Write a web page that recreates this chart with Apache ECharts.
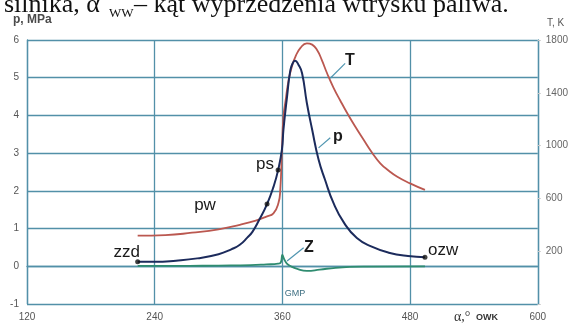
<!DOCTYPE html>
<html>
<head>
<meta charset="utf-8">
<script src="https://cdn.jsdelivr.net/npm/echarts@6/dist/echarts.min.js"></script>
<style>
html, body { margin: 0; padding: 0; background: #fff; }
#chart { width: 571px; height: 326px; }
</style>
</head>
<body>
<div id="chart"></div>
<script>
// kąt obrotu wału (°OWK) i ciśnienie p [MPa]
var pAlpha = [224, 240, 260, 280, 300, 312, 320, 327, 332, 338, 345.6, 351.8, 356, 359.6, 361, 364.4, 367.5, 370, 372, 375, 378.5, 383, 388, 394, 400, 408, 418, 430, 444, 460, 478, 494];
var pVals  = [0.12, 0.12, 0.15, 0.21, 0.32, 0.45, 0.57, 0.76, 0.92, 1.22, 1.65, 2.12, 2.55, 3.1, 3.62, 4.5, 5.2, 5.4, 5.45, 5.35, 5.12, 4.33, 3.62, 2.83, 2.3, 1.68, 1.15, 0.75, 0.52, 0.36, 0.27, 0.24];

// temperatura T [K]
var tAlpha = [224, 250, 275, 300, 320, 335, 345, 351.6, 356.3, 358, 359.6, 361, 363, 365.9, 369, 372.2, 377, 383, 388, 392.6, 397, 402, 408, 414.5, 421, 428, 436.5, 444, 452, 460, 468, 480, 494];
var tVals  = [318, 322, 340, 365, 400, 432, 462, 487, 565, 664, 967, 1219, 1340, 1497, 1600, 1673, 1740, 1775, 1765, 1724, 1650, 1548, 1440, 1340, 1245, 1150, 1042, 950, 866, 810, 764, 714, 664];

// Z
var zAlpha = [224, 260, 300, 330, 345, 356, 358.5, 360, 361.5, 364, 368, 374, 383, 395, 410, 440, 494];
var zVals  = [0.01, 0.01, 0.02, 0.03, 0.05, 0.07, 0.1, 0.3, 0.2, 0.08, 0.0, -0.07, -0.12, -0.09, -0.04, -0.01, 0];

// punkty charakterystyczne: zzd, pw, ps, ozw
var markAlpha = [224, 345.6, 356, 494];
var markP     = [0.12, 1.65, 2.55, 0.24];

var xTicks = [120, 240, 360, 480, 600];

function zip(a, b) {
    var out = [];
    for (var i = 0; i < a.length; i++) out.push([a[i], b[i]]);
    return out;
}

var gridColor = '#5290a8';
var leader = { color: '#4f95b0', width: 1.2, type: 'solid' };
var lab = '"Liberation Sans", Arial, sans-serif';
var serif = '"Liberation Serif", "Times New Roman", serif';

var chart = echarts.init(document.getElementById('chart'));
chart.setOption({
    animation: false,
    grid: { left: 27, right: 33, top: 40, bottom: 22 },
    xAxis: {
        type: 'value', min: xTicks[0], max: xTicks[xTicks.length - 1], interval: 120,
        axisLine: { show: true, lineStyle: { color: gridColor, width: 1.3 } },
        axisTick: { show: false },
        splitLine: { show: true, lineStyle: { color: gridColor, width: 1.3 } },
        axisLabel: { color: '#555', fontSize: 10, fontFamily: lab, margin: 8 }
    },
    yAxis: [
        {
            type: 'value', min: -1, max: 6, interval: 1,
            axisLine: { show: true, lineStyle: { color: gridColor, width: 1.3 } },
            axisTick: { show: false },
            splitLine: { show: true, lineStyle: { color: gridColor, width: 1.3 } },
            axisLabel: { color: '#555', fontSize: 10, fontFamily: lab, margin: 8 }
        },
        {
            type: 'value', min: -200, max: 1800, interval: 400, position: 'right',
            axisLine: { show: true, lineStyle: { color: gridColor, width: 1.3 } },
            axisTick: { show: true, length: 3, lineStyle: { color: '#c8c8c8' } },
            splitLine: { show: false },
            axisLabel: {
                color: '#666', fontSize: 10, fontFamily: lab, margin: 8,
                formatter: function (v) { return v < 0 ? '' : v; }
            }
        }
    ],
    series: [
        {
            name: 'Z', type: 'line', yAxisIndex: 0, data: zip(zAlpha, zVals),
            showSymbol: false, smooth: 0.5,
            lineStyle: { color: '#2f8c70', width: 1.8 }, z: 2,
            markLine: {
                silent: true, symbol: ['none', 'none'], label: { show: false },
                lineStyle: leader,
                data: [[{ coord: [364.4, 0.14] }, { coord: [380, 0.49] }]]
            }
        },
        {
            name: 'T', type: 'line', yAxisIndex: 1, data: zip(tAlpha, tVals),
            showSymbol: false, smooth: 0.5,
            lineStyle: { color: '#bb5850', width: 1.8 }, z: 3,
            markLine: {
                silent: true, symbol: ['none', 'none'], label: { show: false },
                lineStyle: leader,
                data: [[{ coord: [405, 1510] }, { coord: [419, 1623] }]]
            }
        },
        {
            name: 'p', type: 'line', yAxisIndex: 0, data: zip(pAlpha, pVals),
            showSymbol: false, smooth: 0.5,
            lineStyle: { color: '#1c2b5c', width: 2 }, z: 4,
            markLine: {
                silent: true, symbol: ['none', 'none'], label: { show: false },
                lineStyle: leader,
                data: [[{ coord: [394, 3.14] }, { coord: [405, 3.41] }]]
            }
        },
        {
            name: 'punkty', type: 'scatter', yAxisIndex: 0, data: zip(markAlpha, markP),
            symbolSize: 5, itemStyle: { color: '#111' }, z: 5
        }
    ],
    graphic: [
        // fragment podpisu nad rysunkiem (ucięty u góry)
        { type: 'text', x: 4, y: 18, style: { text: 'silnika, α', font: '26px ' + serif, fill: '#111', textVerticalAlign: 'bottom' } },
        { type: 'text', x: 109, y: 20, style: { text: 'WW', font: '13px ' + serif, fill: '#111', textVerticalAlign: 'bottom' } },
        { type: 'text', x: 134, y: 18, style: { text: '– kąt wyprzedzenia wtrysku paliwa.', font: '26px ' + serif, fill: '#111', textVerticalAlign: 'bottom' } },

        { type: 'text', x: 13, y: 20, style: { text: 'p, MPa', font: 'bold 12px ' + lab, fill: '#4a4a4a', textVerticalAlign: 'middle' } },
        { type: 'text', x: 547, y: 23, style: { text: 'T, K', font: '10px ' + lab, fill: '#555', textVerticalAlign: 'middle' } },

        { type: 'text', x: 140, y: 252, style: { text: 'zzd', font: '17px ' + lab, fill: '#1a1a1a', textAlign: 'right', textVerticalAlign: 'middle' } },
        { type: 'text', x: 428, y: 250, style: { text: 'ozw', font: '17px ' + lab, fill: '#1a1a1a', textVerticalAlign: 'middle' } },
        { type: 'text', x: 274, y: 164, style: { text: 'ps', font: '17px ' + lab, fill: '#1a1a1a', textAlign: 'right', textVerticalAlign: 'middle' } },
        { type: 'text', x: 205, y: 205, style: { text: 'pw', font: '17px ' + lab, fill: '#1a1a1a', textAlign: 'center', textVerticalAlign: 'middle' } },
        { type: 'text', x: 350, y: 61, style: { text: 'T', font: 'bold 16px ' + lab, fill: '#1a1a1a', textAlign: 'center', textVerticalAlign: 'middle' } },
        { type: 'text', x: 338, y: 137, style: { text: 'p', font: 'bold 16px ' + lab, fill: '#1a1a1a', textAlign: 'center', textVerticalAlign: 'middle' } },
        { type: 'text', x: 309, y: 248, style: { text: 'Z', font: 'bold 16px ' + lab, fill: '#1a1a1a', textAlign: 'center', textVerticalAlign: 'middle' } },
        { type: 'text', x: 295, y: 294, style: { text: 'GMP', font: '9px ' + lab, fill: '#3e6f82', textAlign: 'center', textVerticalAlign: 'middle' } },

        { type: 'text', x: 454, y: 317, style: { text: 'α,°', font: '14px ' + serif, fill: '#333', textVerticalAlign: 'middle' } },
        { type: 'text', x: 476, y: 318, style: { text: 'OWK', font: 'bold 9px ' + lab, fill: '#333', textVerticalAlign: 'middle' } }
    ]
});
</script>
</body>
</html>
